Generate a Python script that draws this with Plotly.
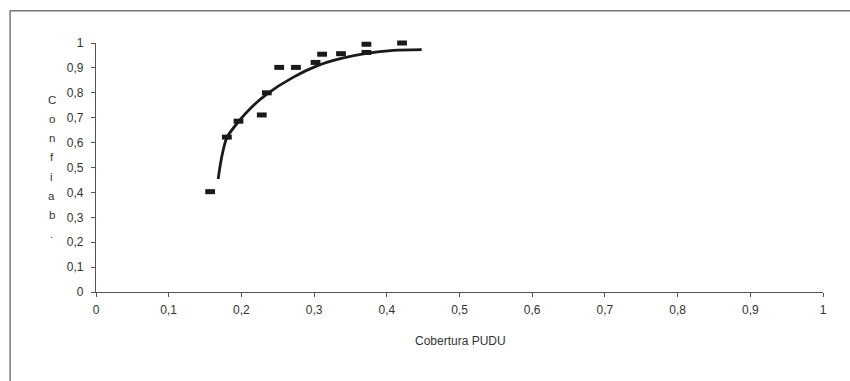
import plotly.graph_objects as go

# Observed points (Cobertura PUDU vs Confiab.)
cobertura = [0.157, 0.180, 0.196, 0.228, 0.235, 0.252, 0.275, 0.302, 0.311, 0.337, 0.372, 0.372, 0.421]
confiab = [0.403, 0.622, 0.686, 0.711, 0.800, 0.902, 0.902, 0.922, 0.955, 0.957, 0.995, 0.962, 1.000]

# Trend curve
trend_x = [0.168, 0.173, 0.180, 0.196, 0.215, 0.235, 0.271, 0.304, 0.336, 0.372, 0.409, 0.448]
trend_y = [0.454, 0.543, 0.620, 0.684, 0.745, 0.795, 0.862, 0.908, 0.937, 0.958, 0.970, 0.973]

x_ticks = [0, 0.1, 0.2, 0.3, 0.4, 0.5, 0.6, 0.7, 0.8, 0.9, 1]
x_tick_labels = ["0", "0,1", "0,2", "0,3", "0,4", "0,5", "0,6", "0,7", "0,8", "0,9", "1"]
y_ticks = [0, 0.1, 0.2, 0.3, 0.4, 0.5, 0.6, 0.7, 0.8, 0.9, 1]
y_tick_labels = ["0", "0,1", "0,2", "0,3", "0,4", "0,5", "0,6", "0,7", "0,8", "0,9", "1"]

y_title_letters = ["C", "o", "n", "f", "i", "a", "b", "."]
x_title = "Cobertura PUDU"

W, H = 850, 381
L, R, T, B = 95.5, 26.7, 43.3, 89
pw = W - L - R
ph = H - T - B

def px_to_paper_x(px):
    return (px - L) / pw

def py_to_paper_y(py):
    return (H - B - py) / ph

fig = go.Figure()
fig.add_trace(go.Scatter(
    x=trend_x, y=trend_y, mode="lines",
    line=dict(color="#1a1a1a", width=2.8, shape="spline", smoothing=0.8),
    showlegend=False, hoverinfo="skip", cliponaxis=False))
fig.add_trace(go.Scatter(
    x=cobertura, y=confiab, mode="markers", cliponaxis=False,
    marker=dict(symbol="line-ew", size=7, line=dict(color="#1a1a1a", width=5)),
    showlegend=False))

font_family = "Liberation Sans, Arial, sans-serif"
axis_font = dict(family=font_family, size=12, color="#333333")

fig.update_layout(
    width=W, height=H,
    margin=dict(l=L, r=R, t=T, b=B),
    paper_bgcolor="white", plot_bgcolor="white",
    xaxis=dict(range=[0, 1], tickvals=x_ticks, ticktext=x_tick_labels,
               showgrid=False, zeroline=False, showline=True, linecolor="#555555", linewidth=1.2,
               ticks="outside", ticklen=4, tickcolor="#555555", tickfont=axis_font,
               ticklabelstandoff=2, fixedrange=True),
    yaxis=dict(range=[0, 1], tickvals=y_ticks, ticktext=y_tick_labels,
               showgrid=False, zeroline=False, showline=True, linecolor="#555555", linewidth=1.2,
               ticks="outside", ticklen=4, tickcolor="#555555", tickfont=axis_font,
               ticklabelstandoff=5, fixedrange=True),
    font=axis_font,
)

# Outer frame
fig.add_shape(type="rect", xref="paper", yref="paper",
              x0=px_to_paper_x(9.5), x1=px_to_paper_x(870),
              y0=py_to_paper_y(400), y1=py_to_paper_y(11),
              line=dict(color="#777777", width=1.5), fillcolor="rgba(0,0,0,0)", layer="below")

# Y title as stacked letters
for i, ch in enumerate(y_title_letters):
    fig.add_annotation(text=ch, xref="paper", yref="paper",
                       x=px_to_paper_x(51), y=py_to_paper_y(100 + 19.2 * i),
                       xanchor="center", yanchor="middle", showarrow=False,
                       font=dict(family=font_family, size=11.5, color="#333333"))

# X title
fig.add_annotation(text=x_title, xref="paper", yref="paper",
                   x=px_to_paper_x(460), y=py_to_paper_y(341), xanchor="center", yanchor="middle",
                   showarrow=False,
                   font=dict(family=font_family, size=12, color="#333333"))

fig.write_html("out.html")
